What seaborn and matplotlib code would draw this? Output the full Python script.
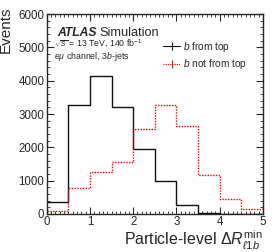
import numpy as np
import pandas as pd
import matplotlib
matplotlib.use("Agg")
import matplotlib.pyplot as plt
import seaborn as sns
from matplotlib.lines import Line2D
from matplotlib.ticker import MultipleLocator

bin_edges = [0, 0.5, 1.0, 1.5, 2.0, 2.5, 3.0, 3.5, 4.0, 4.5, 5.0]
b_from_top = [370, 3280, 4130, 3220, 1950, 1000, 270, 40, 10, 3]
b_not_from_top = [100, 770, 1250, 1560, 2550, 3260, 2650, 1170, 450, 150]
series_labels = [r"$b$ from top", r"$b$ not from top"]

centers = [(a + b) / 2 for a, b in zip(bin_edges[:-1], bin_edges[1:])]
df = pd.DataFrame({
    "x": centers * 2,
    "w": b_from_top + b_not_from_top,
    "s": [series_labels[0]] * len(centers) + [series_labels[1]] * len(centers),
})

sns.set_style("ticks")
plt.rcParams["font.family"] = ["Liberation Sans", "DejaVu Sans"]
plt.rcParams["mathtext.fontset"] = "custom"
plt.rcParams["mathtext.rm"] = "Liberation Sans"
plt.rcParams["mathtext.it"] = "Liberation Sans:italic"
plt.rcParams["mathtext.bf"] = "Liberation Sans:bold"

fig = plt.figure(figsize=(2.74, 2.52), dpi=100)
ax = fig.add_axes([0.170, 0.151, 0.790, 0.793])

sns.histplot(data=df[df.s == series_labels[0]], x="x", weights="w", bins=bin_edges,
             element="step", fill=False, color="#111111", linewidth=1.0, ax=ax)
sns.histplot(data=df[df.s == series_labels[1]], x="x", weights="w", bins=bin_edges,
             element="step", fill=False, color="red", linewidth=1.0, linestyle=(0, (1, 1)), ax=ax)

ax.set_xlim(0, 5)
ax.set_ylim(0, 6000)
ax.xaxis.set_major_locator(MultipleLocator(1))
ax.xaxis.set_minor_locator(MultipleLocator(0.1))
ax.yaxis.set_major_locator(MultipleLocator(1000))
ax.yaxis.set_minor_locator(MultipleLocator(200))
ax.tick_params(which="both", direction="in", top=True, right=True, labelsize=8.3, pad=1.5)
ax.tick_params(which="major", length=5, width=0.8)
ax.tick_params(which="minor", length=2.5, width=0.6)
for sp in ax.spines.values():
    sp.set_linewidth(1.0)

ax.set_ylabel("Events", fontsize=11, ha="right")
ax.yaxis.set_label_coords(-0.155, 1.04)
ax.set_xlabel(r"Particle-level $\Delta R^{\mathrm{min}}_{\ell 1 b}$", fontsize=11.5, ha="right")
ax.xaxis.set_label_coords(1.0, -0.075)

ax.text(0.048, 0.89, "ATLAS", transform=ax.transAxes, fontsize=8.7, fontweight="bold",
        fontstyle="italic", va="baseline")
ax.text(0.245, 0.89, "Simulation", transform=ax.transAxes, fontsize=9.2, va="baseline")
ax.text(0.035, 0.834, r"$\sqrt{s}$ = 13 TeV, 140 fb$^{-1}$", transform=ax.transAxes,
        fontsize=6.3, va="baseline")
ax.text(0.035, 0.774, r"$e\mu$ channel, 3$b$-jets", transform=ax.transAxes,
        fontsize=6.3, va="baseline")

handles = [
    Line2D([], [], color="#111111", lw=0.8, marker="|", markersize=6, markeredgewidth=0.8),
    Line2D([], [], color="red", lw=0.8, ls=(0, (1, 1)), marker="|", markersize=6, markeredgewidth=0.8),
]
ax.legend(handles, series_labels, loc="center left", bbox_to_anchor=(0.54, 0.7935),
          frameon=False, fontsize=7.3, handlelength=1.6, labelspacing=0.35, handletextpad=0.3,
          borderaxespad=0, borderpad=0)

fig.savefig("out.png", dpi=100)
